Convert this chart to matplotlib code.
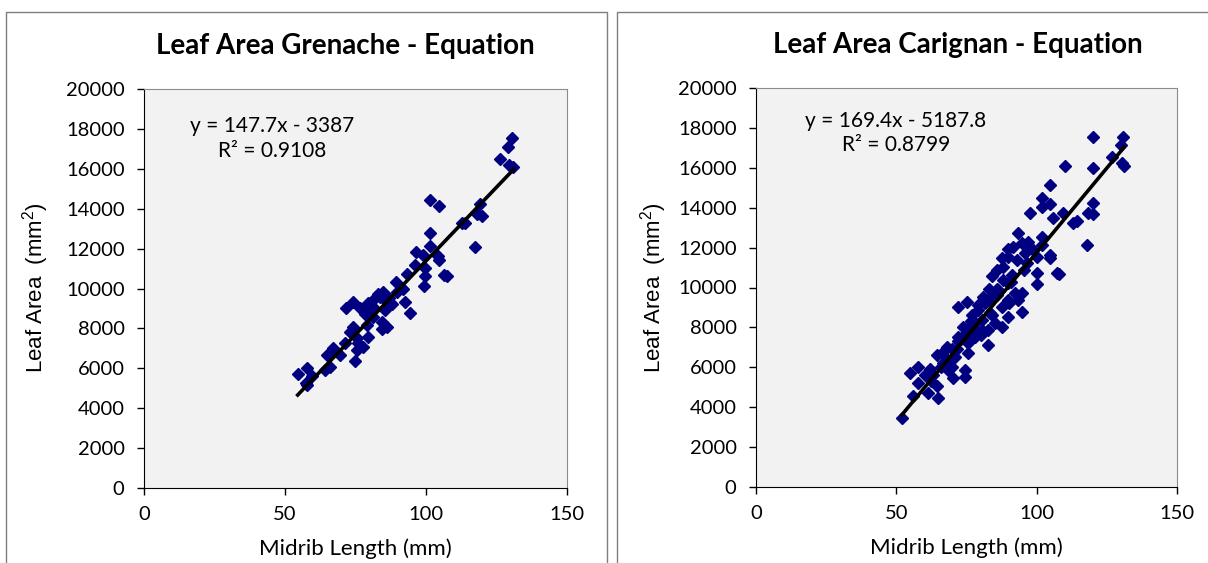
import matplotlib
matplotlib.use("Agg")
import matplotlib.pyplot as plt
from matplotlib.patches import Rectangle
import numpy as np

plt.rcParams["font.family"] = ["Lato", "DejaVu Sans"]
plt.rcParams["mathtext.fontset"] = "custom"
plt.rcParams["mathtext.rm"] = "Liberation Sans"

W, H = 1208, 563

# Grenache midrib length (mm) vs leaf area (mm2)
gren_x = [130.4, 129.2, 126.2, 129.6, 131.0, 101.4, 104.6, 119.1, 118.0, 119.7,
          112.6, 113.8, 101.4, 117.4, 101.4, 96.5, 99.1, 104.4, 104.6, 99.6,
          99.6, 106.4, 107.3, 99.3, 93.2, 89.4, 89.8, 92.6, 94.3, 84.9,
          83.7, 86.1, 81.3, 79.5, 74.2, 71.5, 76.6, 80.1, 85.5, 81.3,
          79.0, 84.3, 86.1, 84.3, 74.2, 73.0, 75.4, 79.5, 76.0, 77.8,
          71.3, 75.4, 74.8, 69.5, 67.1, 64.8, 66.0, 64.2, 57.7, 54.5,
          59.5, 57.7, 57.3, 81.3, 83.0, 78.5, 86.8, 88.0, 96.0, 92.0]
gren_y = [17530, 17080, 16490, 16190, 16080, 14440, 14150, 14240, 13740, 13650,
          13270, 13300, 12800, 12100, 12150, 11810, 11680, 11650, 11430, 11010,
          10640, 10680, 10640, 10130, 10730, 10340, 9840, 9340, 8760, 9840,
          9590, 9340, 9420, 9260, 9310, 9010, 9010, 8840, 8920, 8590,
          8170, 8340, 8090, 7950, 8090, 7840, 7500, 7550, 7250, 7090,
          7250, 6920, 6370, 6670, 7030, 6670, 6080, 5920, 6000, 5700,
          5630, 5160, 5250, 9090, 9700, 8700, 9500, 9200, 11200, 10000]

# Carignan midrib length (mm) vs leaf area (mm2)
car_x = [51.9, 56.0, 54.9, 57.8, 60.2, 57.8, 61.4, 64.9, 64.4, 64.4,
         66.1, 67.9, 68.5, 70.3, 74.5, 74.5, 72.1, 75.1, 73.9, 72.1,
         75.6, 75.6, 70.9, 78.0, 82.8, 80.4, 81.6, 84.5, 85.1, 87.5,
         89.9, 87.5, 89.9, 92.3, 94.6, 94.6, 93.5, 89.9, 91.1, 88.1,
         87.5, 89.9, 93.4, 94.6, 92.9, 95.8, 96.4, 97.0, 98.8, 100.0,
         100.0, 100.0, 101.8, 101.8, 97.6, 101.8, 101.8, 104.7, 104.7, 105.9,
         104.7, 104.8, 107.1, 107.9, 109.5, 110.1, 113.0, 114.2, 117.8, 118.4,
         120.0, 120.2, 120.2, 120.2, 126.7, 130.0, 130.9, 130.3, 131.2, 80.4,
         78.0, 82.8, 86.3, 82.8, 79.2, 89.9, 91.7, 77.0, 83.5, 85.8,
         69.0, 71.5, 62.5, 66.5, 73.0, 76.5, 95.5, 98.0, 91.0, 86.0,
         84.0, 86.0, 88.0, 83.0, 81.0, 79.0, 77.0, 76.0, 74.0, 72.0,
         70.0, 68.0, 66.0, 63.0, 62.0, 70.0, 78.0, 80.0, 84.0, 90.0]
car_y = [3475, 4560, 5700, 6030, 5610, 5200, 4700, 4450, 5060, 6620,
         6700, 7030, 5870, 5450, 5530, 5870, 9040, 9290, 8040, 7530,
         7200, 6700, 6530, 7530, 7120, 8370, 9210, 9710, 8210, 8040,
         8540, 9040, 9370, 9710, 9710, 8790, 9370, 10210, 10630, 11040,
         11460, 11920, 12720, 12220, 11380, 11720, 11210, 12300, 11880, 11550,
         10710, 10180, 12550, 12130, 13720, 14050, 14470, 14170, 15140, 13470,
         11630, 11460, 10710, 10660, 13720, 16090, 13250, 13310, 12130, 13720,
         13690, 14250, 15980, 17530, 16560, 17140, 17560, 16230, 16090, 7870,
         8210, 7870, 9880, 9370, 8870, 11550, 12050, 7700, 8700, 9600,
         6300, 6900, 5300, 6200, 7400, 8300, 10900, 12000, 10300, 9900,
         10600, 10900, 10400, 9900, 9500, 9100, 8600, 8000, 7600, 7300,
         6900, 6400, 6000, 5600, 5900, 6000, 7900, 7600, 8600, 9200]

panels = [
    dict(x=gren_x, y=gren_y, slope=147.7, icept=-3387,
         title="Leaf Area Grenache - Equation",
         eq="y = 147.7x - 3387", r2txt="R² = 0.9108",
         box=(144, 488, 423), frame=(6, 607), title_x=345, title_y=46,
         eq_xy=(45.4, 18150, 16890), ylab_x=36),
    dict(x=car_x, y=car_y, slope=169.4, icept=-5187.8,
         title="Leaf Area Carignan - Equation",
         eq="y = 169.4x - 5187.8", r2txt="R² = 0.8799",
         box=(756, 487, 421), frame=(617, 1215), title_x=958, title_y=45,
         eq_xy=(49.9, 18350, 17140), ylab_x=654),
]

fig = plt.figure(figsize=(W / 100, H / 100), dpi=100)

for p in panels:
    # outer chart frame
    fx0, fx1 = p["frame"]
    fig.patches.append(Rectangle((fx0 / W, -0.05), (fx1 - fx0) / W, (H - 12) / H + 0.05,
                                 transform=fig.transFigure, fill=False,
                                 edgecolor="#7f7f7f", linewidth=1.0))

    left, bottom_px, width = p["box"]
    ax = fig.add_axes([left / W, (H - bottom_px) / H, width / W, 399 / H])
    ax.set_facecolor("#f2f2f2")
    ax.set_xlim(0, 150)
    ax.set_ylim(0, 20000)
    ax.set_xticks([0, 50, 100, 150])
    ax.set_yticks(range(0, 20001, 2000))
    ax.tick_params(direction="out", length=5, width=1, labelsize=14.5, color="black")
    ax.tick_params(axis="y", pad=9)
    ax.tick_params(axis="x", pad=8)
    for s in ["top", "right"]:
        ax.spines[s].set_color("#8c8c8c")
    for s in ["left", "bottom"]:
        ax.spines[s].set_color("black")

    ax.plot(p["x"], p["y"], linestyle="None", marker="D", ms=6,
            color="#000080", mec="#000080", zorder=3)

    xs = np.array([min(p["x"]), max(p["x"])])
    ax.plot(xs, p["slope"] * xs + p["icept"], color="black", lw=2.6, zorder=4)

    ex, ey1, ey2 = p["eq_xy"]
    ax.text(ex, ey1, p["eq"], ha="center", va="center", fontsize=15)
    ax.text(ex, ey2, p["r2txt"], ha="center", va="center", fontsize=15)

    ax.set_xlabel("Midrib Length (mm)", fontsize=16, labelpad=11)
    fig.text(p["ylab_x"] / W, 1 - 288 / H, r"Leaf Area  (mm$^{2}$)", rotation=90,
             ha="center", va="center", fontsize=16, family="Liberation Sans")
    fig.text(p["title_x"] / W, 1 - p["title_y"] / H, p["title"], ha="center",
             va="center", fontsize=20, fontweight="bold")

fig.savefig("out.png", dpi=100)
